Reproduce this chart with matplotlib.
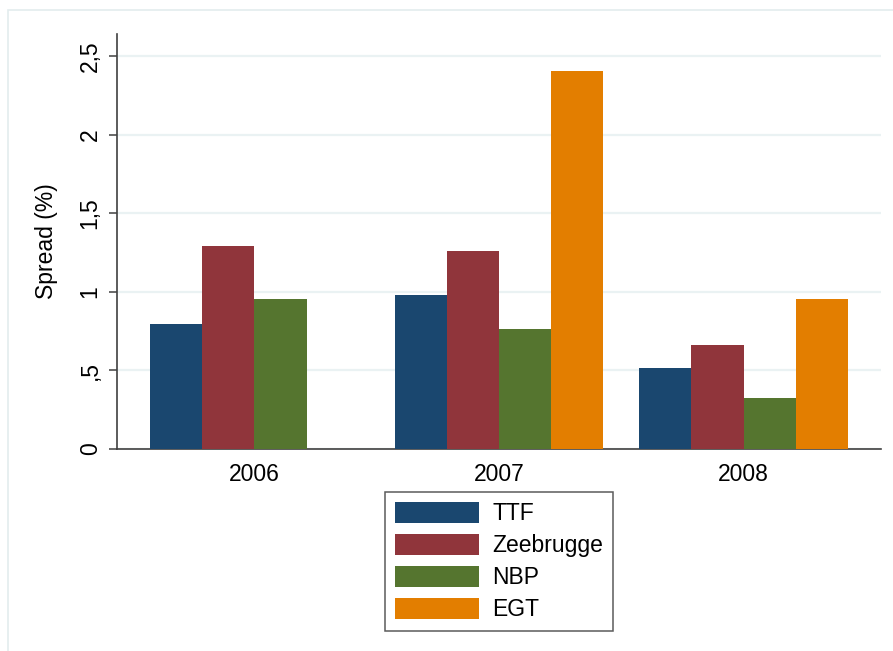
import matplotlib

matplotlib.use("Agg")
import matplotlib.pyplot as plt
import numpy as np
from matplotlib.patches import Rectangle

plt.rcParams["font.family"] = ["Liberation Sans", "DejaVu Sans"]

years = ["2006", "2007", "2008"]
hubs = ["TTF", "Zeebrugge", "NBP", "EGT"]
ttf = [0.795, 0.98, 0.515]
zeebrugge = [1.29, 1.26, 0.66]
nbp = [0.955, 0.765, 0.325]
egt = [np.nan, 2.405, 0.955]

yticks = [0, 0.5, 1, 1.5, 2, 2.5]
ytick_labels = ["0", ",5", "1", "1,5", "2", "2,5"]

COLORS = ["#1a476f", "#90353b", "#55752f", "#e37e00"]
GRID = "#eaf2f3"
AXIS = "#404040"
FS = 16.5

W, H = 893, 651
fig = plt.figure(figsize=(W / 100, H / 100), dpi=100, facecolor="white")
ax = fig.add_axes([117 / W, 1 - 449 / H, (881 - 117) / W, (449 - 34) / H])

# light outer panel border like the Stata graph region
fig.patches.append(Rectangle((8 / W, -0.05), 1.2, 1 - 10 / H + 0.05,
                             transform=fig.transFigure, fill=False,
                             edgecolor="#e3ecee", linewidth=1.2))

x = np.arange(len(years))
width = 0.2135
series = [ttf, zeebrugge, nbp, egt]
for i, (name, vals) in enumerate(zip(hubs, series)):
    ax.bar(x + (i - 1.5) * width, vals, width=width, color=COLORS[i],
           label=name, zorder=3, linewidth=0)

ax.set_xlim(-0.562, 2.562)
ax.set_ylim(0, 2.64)
ax.set_xticks(x)
ax.set_xticklabels(years, fontsize=FS)
ax.tick_params(axis="x", length=0, pad=10)
ax.set_yticks(yticks)
ax.set_yticklabels(ytick_labels, fontsize=FS, rotation=90, va="center")
ax.tick_params(axis="y", length=6, width=1.1, color=AXIS, pad=5)
ax.yaxis.grid(True, color=GRID, linewidth=1.6, zorder=0)
ax.set_axisbelow(True)

for side in ["top", "right"]:
    ax.spines[side].set_visible(False)
for side in ["left", "bottom"]:
    ax.spines[side].set_color(AXIS)
    ax.spines[side].set_linewidth(1.2)

ax.set_ylabel("Spread (%)", fontsize=FS)
ax.yaxis.set_label_coords(-0.077, 0.5)

leg = fig.legend(loc="upper center", bbox_to_anchor=(499 / W, 1 - 492 / H),
                 bbox_transform=fig.transFigure, ncol=1, fontsize=FS,
                 frameon=True, fancybox=False, handlelength=3.67,
                 handleheight=1.0, labelspacing=0.39, handletextpad=0.59,
                 borderpad=0.44, borderaxespad=0)
leg.get_frame().set_edgecolor("#333333")
leg.get_frame().set_linewidth(1.1)

plt.savefig("out.png", dpi=100, facecolor="white")
plt.close()
